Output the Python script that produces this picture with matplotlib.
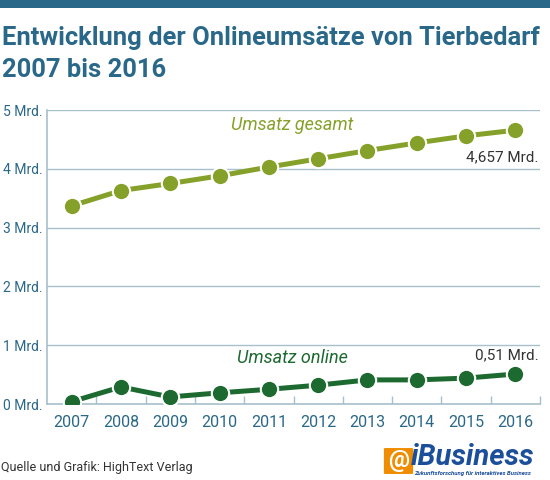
import numpy as np
import matplotlib.pyplot as plt
from matplotlib.patches import Rectangle, FancyBboxPatch

# data (Mrd. Euro)
years = [2007, 2008, 2009, 2010, 2011, 2012, 2013, 2014, 2015, 2016]
gesamt = [3.37, 3.63, 3.75, 3.88, 4.03, 4.17, 4.31, 4.44, 4.56, 4.657]
online = [0.04, 0.29, 0.12, 0.19, 0.25, 0.32, 0.41, 0.41, 0.44, 0.51]
y_ticks = [0, 1, 2, 3, 4, 5]
y_labels = ['0 Mrd.', '1 Mrd.', '2 Mrd.', '3 Mrd.', '4 Mrd.', '5 Mrd.']

blue = '#2a6889'
grid_col = '#a8c0cc'
light_green = '#86a12a'
dark_green = '#1d6a30'

plt.rcParams['font.family'] = ['Roboto', 'DejaVu Sans']

fig = plt.figure(figsize=(5.5, 4.8), dpi=100)
ax = fig.add_axes([47 / 550, 76 / 480, 493 / 550, 294 / 480])

# top band
fig.patches.append(Rectangle((0, 1 - 8 / 480), 1, 8 / 480, transform=fig.transFigure,
                             facecolor=blue, edgecolor='none'))

fig.text(0.003, 1 - 38 / 480, 'Entwicklung der Onlineumsätze von Tierbedarf',
         fontsize=18.4, fontweight='bold', color=blue, va='center', ha='left')
fig.text(0.003, 1 - 70 / 480, '2007 bis 2016',
         fontsize=18.4, fontweight='bold', color=blue, va='center', ha='left')

ax.plot(years, gesamt, color=light_green, lw=3.6, marker='o', ms=12.5,
        mfc=light_green, mec='white', mew=1.5, zorder=5)
ax.plot(years, online, color=dark_green, lw=3.6, marker='o', ms=12.5,
        mfc=dark_green, mec='white', mew=1.5, zorder=5)

ax.set_xlim(2006.5, 2016.5)
ax.set_ylim(0, 5)
ax.set_yticks(y_ticks)
ax.set_yticklabels(y_labels)
ax.set_xticks(years)
ax.set_xticks(np.array(years) + 0.5, minor=True)
ax.tick_params(axis='y', length=0, pad=3.5, labelsize=10, labelcolor=blue)
ax.tick_params(axis='x', which='major', length=0, pad=8, labelsize=11.5, labelcolor=blue)
ax.tick_params(axis='x', which='minor', direction='in', length=6, color=grid_col, width=1)
ax.grid(axis='y', color=grid_col, lw=1)
ax.set_axisbelow(True)
for s in ['top', 'right']:
    ax.spines[s].set_visible(False)
for s in ['left', 'bottom']:
    ax.spines[s].set_color(grid_col)
    ax.spines[s].set_linewidth(1.2)

ax.text(2011.47, 4.74, 'Umsatz gesamt', style='italic', fontsize=13, color=light_green,
        ha='center', va='center')
ax.text(2011.47, 0.78, 'Umsatz online', style='italic', fontsize=13, color=dark_green,
        ha='center', va='center')
ax.text(2016.47, 4.19, '4,657 Mrd.', fontsize=11, color='#333333', ha='right', va='center')
ax.text(2016.47, 0.83, '0,51 Mrd.', fontsize=11, color='#333333', ha='right', va='center')

# source and logo
fig.text(0.002, 1 - 468 / 480, 'Quelle und Grafik: HighText Verlag', fontsize=9,
         color='#333333', va='center', ha='left')
fig.patches.append(FancyBboxPatch((385 / 550, 1 - 473 / 480), 27 / 550, 24 / 480,
                                  boxstyle='round,pad=0.002', transform=fig.transFigure,
                                  facecolor='#f08c00', edgecolor='none'))
fig.text(398.5 / 550, 1 - 461 / 480, '@', fontsize=17, fontweight='bold', color='white',
         ha='center', va='center')
fig.text(411 / 550, 1 - 457 / 480, 'iBusiness', fontsize=21, fontweight='bold',
         style='italic', color='#1c4f9a', ha='left', va='center')
fig.text(414 / 550, 1 - 473.5 / 480, 'Zukunftsforschung für interaktives Business', fontsize=4.3,
         fontweight='bold', style='italic', color='#1c4f9a', ha='left', va='center')

fig.savefig('out.png', dpi=100)
